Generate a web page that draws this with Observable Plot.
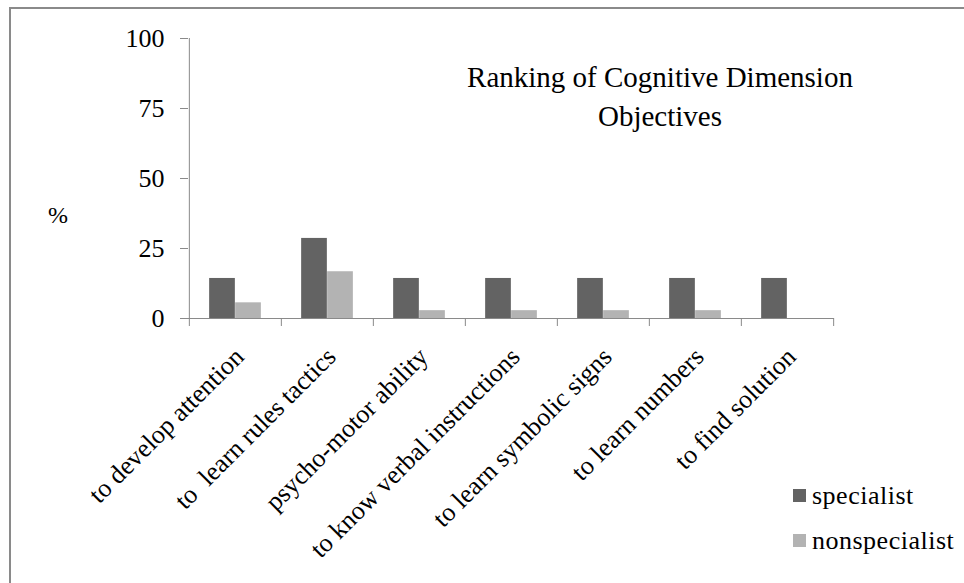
<!DOCTYPE html>
<html>
<head>
<meta charset="utf-8">
<script src="https://cdn.jsdelivr.net/npm/d3@7"></script>
<script src="https://cdn.jsdelivr.net/npm/@observablehq/plot@0.6"></script>
<style>
  html, body { margin: 0; padding: 0; background: #fff; }
  #chart { position: relative; width: 964px; height: 583px; overflow: hidden;
           font-family: "Liberation Serif", "Times New Roman", serif; color: #000; }
  #border { position: absolute; left: 9px; top: 7px; width: 1000px; height: 700px;
            border: 2px solid #8a8a8a; box-sizing: border-box; }
  #plot { position: absolute; left: 0; top: 0; }
  #title { position: absolute; left: 460px; width: 400px; top: 58px; text-align: center;
           font-size: 29px; line-height: 39px; }
  #ylabel { position: absolute; left: 48px; top: 203px; font-size: 24px; line-height: 24px; }
  .key { position: absolute; left: 793px; font-size: 26px; line-height: 26px; letter-spacing: 0.5px; white-space: nowrap; }
  .key span { display: inline-block; width: 13px; height: 13px; margin-right: 6px; vertical-align: 2px; }
</style>
</head>
<body>
<div id="chart">
  <div id="border"></div>
  <div id="plot"></div>
  <div id="title">Ranking of Cognitive Dimension<br>Objectives</div>
  <div id="ylabel">%</div>
  <div class="key" style="top:483px"><span style="background:#636363"></span>specialist</div>
  <div class="key" style="top:528px"><span style="background:#b3b3b3"></span>nonspecialist</div>
</div>
<script>
// Objectives ranked by the two groups of teachers (% of respondents)
const categories = [
  "to develop attention",
  "to  learn rules tactics",
  "psycho-motor ability",
  "to know verbal instructions",
  "to learn symbolic signs",
  "to learn numbers",
  "to find solution"
];
const specialist    = [14.3, 28.6, 14.3, 14.3, 14.3, 14.3, 14.3];
const nonspecialist = [5.6, 16.7, 2.8, 2.8, 2.8, 2.8, 0];
const yTicks = [0, 25, 50, 75, 100];

const rows = categories.map((c, i) => ({category: c, specialist: specialist[i], nonspecialist: nonspecialist[i]}));

const W = 964, H = 583;
const margin = {left: 188, right: 130, top: 38, bottom: 265};
const band = (W - margin.left - margin.right) / categories.length;
const barW = 26;
const axisColor = "#8a8a8a";

const chart = Plot.plot({
  width: W,
  height: H,
  marginLeft: margin.left,
  marginRight: margin.right,
  marginTop: margin.top,
  marginBottom: margin.bottom,
  style: {fontFamily: "Liberation Serif, Times New Roman, serif", color: "#000", background: "transparent"},
  x: {domain: categories, padding: 0, label: null},
  y: {domain: [0, 100], label: null},
  marks: [
    Plot.barY(rows, {x: "category", y: "specialist", fill: "#636363",
      insetLeft: band / 2 - barW, insetRight: band / 2}),
    Plot.barY(rows, {x: "category", y: "nonspecialist", fill: "#b3b3b3",
      insetLeft: band / 2, insetRight: band / 2 - barW}),
    // axis lines
    Plot.ruleY([0], {stroke: axisColor}),
    Plot.ruleX([categories[0]], {y1: 0, y2: 100, dx: -band / 2, stroke: axisColor}),
    // category boundary ticks
    Plot.ruleX(categories, {x: d => d, y1: 0, y2: 0, insetBottom: -8, dx: -band / 2, stroke: axisColor}),
    Plot.ruleX([categories[categories.length - 1]], {y1: 0, y2: 0, insetBottom: -8, dx: band / 2, stroke: axisColor}),
    Plot.axisY({ticks: yTicks, tickSize: 8, tickPadding: 16, fontSize: 26, stroke: axisColor, label: null}),
    Plot.axisX({tickSize: 0, tickPadding: 34, tickRotate: -45, fontSize: 26, dx: 4, label: null})
  ]
});
chart.querySelectorAll("text").forEach(t => t.style.whiteSpace = "pre");
document.getElementById("plot").appendChild(chart);
</script>
</body>
</html>
